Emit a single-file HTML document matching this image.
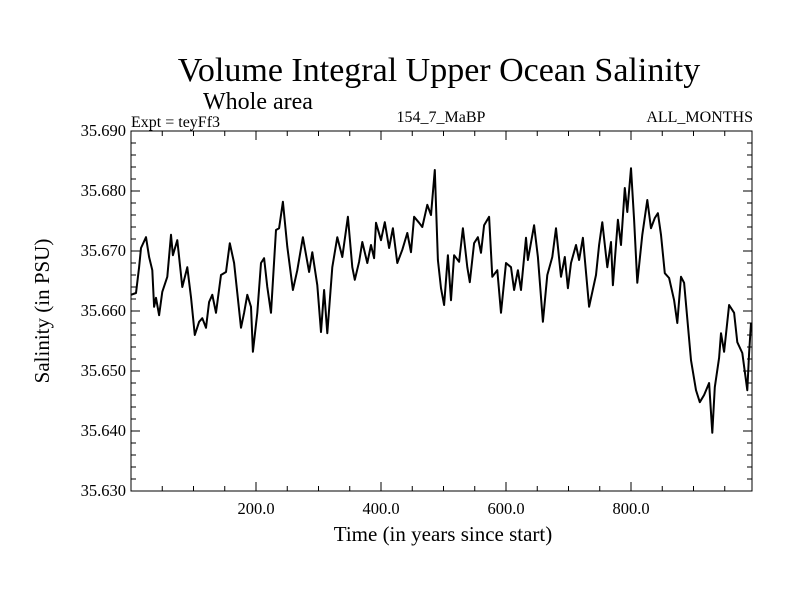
<!DOCTYPE html>
<html><head><meta charset="utf-8"><style>
body{margin:0;background:#fff;}
svg text{font-family:"Liberation Serif",serif;fill:#000;}
</style></head><body>
<svg id="chart" width="800" height="600" xmlns="http://www.w3.org/2000/svg">
<rect width="800" height="600" fill="#fff"/>
<text x="439" y="81" font-size="34" text-anchor="middle">Volume Integral Upper Ocean Salinity</text>
<text x="203" y="109" font-size="24">Whole area</text>
<text x="131" y="127" font-size="16">Expt = teyFf3</text>
<text x="441" y="122" font-size="16" text-anchor="middle">154_7_MaBP</text>
<text x="753" y="122" font-size="16" text-anchor="end">ALL_MONTHS</text>
<text transform="translate(49,311) rotate(-90)" font-size="21" text-anchor="middle">Salinity (in PSU)</text>
<text x="443" y="541" font-size="21" text-anchor="middle">Time (in years since start)</text>
<g id="axes"></g>
<path id="line" fill="none" stroke="#000" stroke-width="2" stroke-linejoin="round"/>
<rect x="131" y="131" width="621" height="360" fill="none" stroke="#000" stroke-width="1"/>
</svg>
<script>
const years=[0,8,13,16,24,29,34,37,40,45,50,58,64,67,74,82,90,96,102,109,114,120,125,130,136,144,152,158,165,170,176,181,186,192,195,202,208,213,218,224,232,237,243,250,259,266,275,285,290,298,304,309,314,322,330,338,347,354,358,365,370,378,384,389,392,400,406,413,419,426,434,442,448,453,461,466,474,480,486,491,496,501,507,512,517,525,531,538,542,549,555,560,565,573,578,586,592,600,608,613,619,624,632,635,645,651,659,666,674,680,688,694,699,704,712,717,723,733,744,749,754,762,768,771,779,784,790,794,800,805,810,818,826,832,838,843,848,854,861,869,874,880,885,896,904,910,917,925,930,934,941,944,949,957,965,970,978,986,989,992];
const salinity=[35.6627,35.6630,35.6673,35.6705,35.6723,35.6690,35.6668,35.6607,35.6622,35.6593,35.6632,35.6657,35.6727,35.6693,35.6718,35.6640,35.6673,35.6623,35.6560,35.6582,35.6588,35.6572,35.6615,35.6627,35.6597,35.6660,35.6665,35.6713,35.6680,35.6630,35.6572,35.6597,35.6627,35.6607,35.6532,35.6597,35.6680,35.6688,35.6640,35.6597,35.6735,35.6738,35.6782,35.6707,35.6635,35.6668,35.6723,35.6665,35.6698,35.6643,35.6565,35.6635,35.6563,35.6673,35.6723,35.6690,35.6757,35.6673,35.6652,35.6682,35.6715,35.6680,35.6710,35.6688,35.6747,35.6718,35.6748,35.6705,35.6738,35.6680,35.6702,35.6730,35.6698,35.6757,35.6747,35.6740,35.6777,35.6760,35.6835,35.6685,35.6638,35.6610,35.6693,35.6618,35.6693,35.6682,35.6738,35.6673,35.6648,35.6713,35.6723,35.6697,35.6743,35.6757,35.6657,35.6668,35.6597,35.6680,35.6673,35.6635,35.6668,35.6635,35.6722,35.6685,35.6743,35.6690,35.6582,35.6660,35.6690,35.6738,35.6657,35.6690,35.6638,35.6680,35.6710,35.6685,35.6722,35.6607,35.6660,35.6710,35.6748,35.6673,35.6715,35.6643,35.6752,35.6710,35.6805,35.6765,35.6838,35.6752,35.6647,35.6727,35.6785,35.6738,35.6755,35.6763,35.6727,35.6663,35.6655,35.6618,35.6580,35.6657,35.6647,35.6518,35.6468,35.6448,35.6460,35.6480,35.6397,35.6473,35.6522,35.6563,35.6532,35.6610,35.6597,35.6548,35.6530,35.6468,35.6530,35.6580];
const yTickLabels=["35.630","35.640","35.650","35.660","35.670","35.680","35.690"];
const xTickLabels=["200.0","400.0","600.0","800.0"];
const L=131,R=752,T=131,B=491,X0=0,X1=993.6,Y0=35.630,Y1=35.690;
const xs=v=>L+(v-X0)/(X1-X0)*(R-L);
const ys=v=>B-(v-Y0)/(Y1-Y0)*(B-T);
const NS="http://www.w3.org/2000/svg";
const g=document.getElementById('axes');
function ln(x1,y1,x2,y2){const l=document.createElementNS(NS,'line');l.setAttribute('x1',x1);l.setAttribute('y1',y1);l.setAttribute('x2',x2);l.setAttribute('y2',y2);l.setAttribute('stroke','#000');l.setAttribute('stroke-width','1');


g.appendChild(l);}
for(let i=0;i<=30;i++){const v=Y0+i*0.002;const y=ys(v);const len=(i%5==0)?9:5;ln(L,y,L+len,y);ln(R,y,R-len,y);}
yTickLabels.forEach(s=>{const t=document.createElementNS(NS,'text');t.setAttribute('x',L-5);t.setAttribute('y',ys(parseFloat(s))+5);t.setAttribute('font-size','16.5');t.setAttribute('text-anchor','end');t.textContent=s;


g.appendChild(t);});
for(let v=50;v<X1;v+=50){const x=xs(v);const len=(v%200==0)?9:5;ln(x,B,x,B-len);ln(x,T,x,T+len);}
xTickLabels.forEach(s=>{const t=document.createElementNS(NS,'text');t.setAttribute('x',xs(parseFloat(s)));t.setAttribute('y',B+23);t.setAttribute('font-size','16.5');t.setAttribute('text-anchor','middle');t.textContent=s;


g.appendChild(t);});
document.getElementById('line').setAttribute('d',years.map((yr,i)=>(i?'L':'M')+xs(yr).toFixed(1)+','+ys(salinity[i]).toFixed(1)).join(''));
</script>
</body></html>
